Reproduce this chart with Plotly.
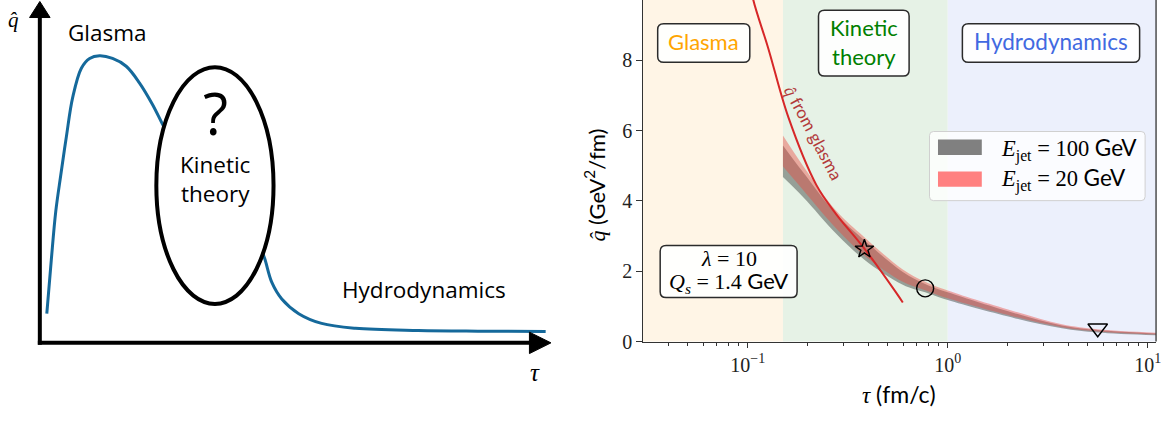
import numpy as np
import plotly.graph_objects as go

W, H = 1173, 424

# ---------------- Left schematic (arbitrary schematic units) ----------------
sch_tau_glasma = [0.7, 1.15, 1.6, 2.1, 2.67, 3.3, 4.17, 5.0, 6.0, 7.3, 8.67, 10.0, 11.3, 12.3, 13.0]
sch_q_glasma = [3.0, 8.5, 13.5, 17.2, 21.2, 25.2, 28.2, 29.2, 29.47, 29.2, 28.4, 26.7, 24.5, 22.5, 21.2]
sch_tau_hydro = [22.2, 22.6, 23.3, 24.3, 26.0, 28.3, 31.7, 38.0, 44.0, 50.8]
sch_q_hydro = [9.7, 8.6, 6.2, 4.5, 3.0, 2.0, 1.5, 1.27, 1.2, 1.17]

# ---------------- Right panel data ----------------
glasma_tau = [0.103, 0.1067, 0.1268, 0.1594, 0.2205, 0.2772, 0.3763, 0.551, 0.596]
glasma_qhat = [10.2, 9.71, 8.33, 6.39, 4.45, 3.62, 2.70, 1.40, 1.11]

band_tau = [0.15, 0.19, 0.277, 0.383, 0.596, 0.771, 1.0, 2.18, 3.72, 5.62, 11.0]
e100_low = [4.68, 4.10, 3.07, 2.33, 1.62, 1.40, 1.18, 0.66, 0.38, 0.26, 0.18]
e100_high = [5.58, 4.80, 3.62, 2.88, 1.98, 1.64, 1.40, 0.80, 0.46, 0.33, 0.23]
e20_low = [4.98, 4.30, 3.22, 2.45, 1.70, 1.46, 1.23, 0.70, 0.41, 0.29, 0.20]
e20_high = [5.86, 4.98, 3.72, 2.97, 2.05, 1.70, 1.45, 0.85, 0.49, 0.35, 0.25]

star_pt = ([0.383], [2.63])
circle_pt = ([0.771], [1.515])
tri_pt = ([5.62], [0.38])

region_edges = [0.15, 1.0]
xticks = [0.1, 1, 10]
xtick_text = ["10<sup>\u22121</sup>", "10<sup>0</sup>", "10<sup>1</sup>"]
minor_vals = [0.04, 0.05, 0.06, 0.07, 0.08, 0.09, 0.2, 0.3, 0.4, 0.5, 0.6, 0.7, 0.8, 0.9,
              2, 3, 4, 5, 6, 7, 8, 9]
yticks = [0, 2, 4, 6, 8]

SERIF = "Liberation Serif"
SANS = "Lato"
LSANS = "Open Sans"


def X(px):
    return px / W


def Y(py):
    return 1 - py / H


fig = go.Figure()

# ---------- Right panel axes geometry ----------
ax_l, ax_r, ax_b = 645.7, 1161.0, 350.7
dec = 201.0
x_lo = -1 - (751.0 - ax_l) / dec
x_hi = 1 + (ax_r - 1152.7) / dec
y_hi = ax_b / 36.1

# bands
fig.add_trace(go.Scatter(x=band_tau, y=e100_low, mode="lines", line=dict(width=0, shape="spline"),
                         showlegend=False, hoverinfo="skip"))
fig.add_trace(go.Scatter(x=band_tau, y=e100_high, mode="lines", line=dict(width=0, shape="spline"),
                         fill="tonexty", fillcolor="rgba(70,75,72,0.50)", showlegend=False, hoverinfo="skip"))
fig.add_trace(go.Scatter(x=band_tau, y=e20_low, mode="lines", line=dict(width=0, shape="spline"),
                         showlegend=False, hoverinfo="skip"))
fig.add_trace(go.Scatter(x=band_tau, y=e20_high, mode="lines", line=dict(width=0, shape="spline"),
                         fill="tonexty", fillcolor="rgba(235,70,60,0.42)", showlegend=False, hoverinfo="skip"))

# glasma curve
fig.add_trace(go.Scatter(x=glasma_tau, y=glasma_qhat, mode="lines",
                         line=dict(color="#d62728", width=2, shape="spline"),
                         showlegend=False, hoverinfo="skip"))

# markers
for (xs, ys), sym, sz in [(star_pt, "star-open", 14), (circle_pt, "circle-open", 17),
                          (tri_pt, "triangle-down-open", 17)]:
    fig.add_trace(go.Scatter(x=xs, y=ys, mode="markers",
                             marker=dict(symbol=sym, size=sz, color="black", line=dict(width=1.4)),
                             showlegend=False, hoverinfo="skip"))

# ---------- Left schematic traces ----------
fig.add_trace(go.Scatter(x=sch_tau_glasma, y=sch_q_glasma, xaxis="x2", yaxis="y2", mode="lines",
                         line=dict(color="#15699b", width=3, shape="spline"), showlegend=False,
                         hoverinfo="skip"))
fig.add_trace(go.Scatter(x=sch_tau_hydro, y=sch_q_hydro, xaxis="x2", yaxis="y2", mode="lines",
                         line=dict(color="#15699b", width=3, shape="spline"), showlegend=False,
                         hoverinfo="skip"))

shapes = []
# background regions (data values on the log axis)
shapes.append(dict(type="rect", xref="x", yref="y domain", x0=10 ** x_lo, x1=region_edges[0],
                   y0=0, y1=1, fillcolor="#fff5e6", line=dict(width=0), layer="below"))
shapes.append(dict(type="rect", xref="x", yref="y domain", x0=region_edges[0],
                   x1=region_edges[1], y0=0, y1=1, fillcolor="#e6f2e6",
                   line=dict(width=0), layer="below"))
shapes.append(dict(type="rect", xref="x", yref="y domain", x0=region_edges[1], x1=10 ** x_hi,
                   y0=0, y1=1, fillcolor="#ecf0fc", line=dict(width=0), layer="below"))
# right spine
shapes.append(dict(type="line", xref="x domain", yref="y domain", x0=1, x1=1, y0=0, y1=1,
                   line=dict(color="#333333", width=1.3)))


def rrect(x0, y0, x1, y1, r=5):
    return (f"M {X(x0+r)},{Y(y0)} L {X(x1-r)},{Y(y0)} Q {X(x1)},{Y(y0)} {X(x1)},{Y(y0+r)} "
            f"L {X(x1)},{Y(y1-r)} Q {X(x1)},{Y(y1)} {X(x1-r)},{Y(y1)} L {X(x0+r)},{Y(y1)} "
            f"Q {X(x0)},{Y(y1)} {X(x0)},{Y(y1-r)} L {X(x0)},{Y(y0+r)} Q {X(x0)},{Y(y0)} {X(x0+r)},{Y(y0)} Z")


for (bx0, by0, bx1, by1) in [(660.5, 24.5, 753, 64), (822, 10.5, 913, 78),
                             (966.5, 24.5, 1144.5, 64), (663, 252, 800.5, 305.5)]:
    shapes.append(dict(type="path", xref="paper", yref="paper", path=rrect(bx0, by0, bx1, by1, 6),
                       fillcolor="rgba(255,255,255,0.92)", line=dict(color="#2b2b2b", width=1.5)))

# legend
shapes.append(dict(type="path", xref="paper", yref="paper", path=rrect(933.5, 135, 1150, 206, 4),
                   fillcolor="rgba(255,255,255,0.8)", line=dict(color="#d0d0d0", width=1)))
shapes.append(dict(type="rect", xref="paper", yref="paper", x0=X(942), x1=X(986), y0=Y(159),
                   y1=Y(143.3), fillcolor="#808080", line=dict(width=0)))
shapes.append(dict(type="rect", xref="paper", yref="paper", x0=X(942), x1=X(986), y0=Y(191.7),
                   y1=Y(176), fillcolor="#ff8080", line=dict(width=0)))

# left schematic: axes arrows and ellipse
shapes.append(dict(type="line", xref="x2", yref="y2", x0=0, y0=-0.2, x1=0, y1=33.5,
                   line=dict(color="black", width=4)))
shapes.append(dict(type="line", xref="x2", yref="y2", x0=-0.2, y0=0, x1=49.3, y1=0,
                   line=dict(color="black", width=4)))
shapes.append(dict(type="path", xref="x2", yref="y2", path="M -1.03,33.4 L 1.03,33.4 L 0,35.05 Z",
                   fillcolor="black", line=dict(color="black", width=1)))
shapes.append(dict(type="path", xref="x2", yref="y2", path="M 49.17,1.1 L 49.17,-1.1 L 51.33,0 Z",
                   fillcolor="black", line=dict(color="black", width=1)))
shapes.append(dict(type="circle", xref="x2", yref="y2", x0=11.7, x1=23.47, y0=4.0, y1=28.3,
                   fillcolor="white", line=dict(color="black", width=4)))

annotations = []


def ann(px, py, text, size, color="black", family=SANS, angle=0, xanchor="center"):
    annotations.append(dict(xref="paper", yref="paper", x=X(px), y=Y(py), text=text,
                            showarrow=False, xanchor=xanchor, yanchor="middle", textangle=angle,
                            font=dict(size=size, color=color, family=family)))


def sp(fam, t):
    return f'<span style="font-family:{fam}">{t}</span>'


# left schematic text
ann(108, 33, "Glasma", 22.5, family=LSANS)
ann(425.5, 297, "Hydrodynamics", 22.5, family=LSANS)
ann(216, 116, "?", 58, family=LSANS)
ann(216, 184, "Kinetic<br>theory", 22.5, family=LSANS)
ann(14, 21, "<i>q\u0302</i>", 21, family=SERIF)
ann(537, 382, "<i>\u03c4</i>", 25, family=SERIF)

# right panel boxes
ann(706.7, 43, "Glasma", 22, color="#ffa500")
ann(867.5, 43, "Kinetic<br>theory", 22, color="#008000")
ann(1056, 43, "Hydrodynamics", 22.5, color="#4169e1")
ann(731.7, 265.5, "<i>\u03bb</i> = 10", 22, family=SERIF)
ann(731.7, 290, "<i>Q<sub>s</sub></i> = 1.4 " + sp(SANS, "GeV"), 22, family=SERIF)
ann(817, 136, "<i>" + sp(SERIF, "q\u0302") + "</i> from glasma", 17, color="#b23a3a", angle=62)

# legend text
ann(1003, 153, "<i>E</i><sub>jet</sub> = 100 " + sp(SANS, "GeV"), 22.5, family=SERIF, xanchor="left")
ann(1003, 184, "<i>E</i><sub>jet</sub> = 20 " + sp(SANS, "GeV"), 22.5, family=SERIF, xanchor="left")

# axis titles
ann(597, 190, sp(SERIF, "<i>q\u0302</i>") + " (GeV<sup>2</sup>/fm)", 22, angle=-90)
ann(903, 404, sp(SERIF, "<i>\u03c4</i>") + " (fm/c)", 23)

fig.update_layout(
    width=W, height=H, autosize=False, margin=dict(l=0, r=0, t=0, b=0, pad=0),
    paper_bgcolor="white", plot_bgcolor="white",
    xaxis=dict(type="log", domain=[ax_l / W, ax_r / W], range=[x_lo, x_hi],
               tickvals=xticks, ticktext=xtick_text, ticks="outside", ticklen=5, tickwidth=1.2,
               tickcolor="#333333", showline=True, linecolor="#333333", linewidth=1.3,
               showgrid=False, zeroline=False, anchor="y",
               tickfont=dict(family=SERIF, size=20, color="#222222"),
               minor=dict(tickvals=minor_vals, ticks="outside", ticklen=3, tickwidth=1,
                          tickcolor="#333333", showgrid=False)),
    yaxis=dict(domain=[(H - ax_b) / H, 1], range=[0, y_hi], tickvals=yticks, ticks="outside",
               ticklen=5.5, tickwidth=1.2, tickcolor="#333333", showline=True,
               linecolor="#333333", linewidth=1.3, showgrid=False, zeroline=False, anchor="x",
               tickfont=dict(family=SERIF, size=20, color="#222222")),
    xaxis2=dict(domain=[0, 560 / W], range=[-4, 52], visible=False, anchor="y2"),
    yaxis2=dict(domain=[0, 1], range=[-7.2, 35.2], visible=False, anchor="x2"),
    shapes=shapes, annotations=annotations,
)

fig.write_html(
    "out.html",
    config={"displayModeBar": False},
    post_script=("document.documentElement.style.margin='0px';"
                 "document.body.style.margin='0px';"
                 "document.documentElement.style.overflow='hidden';"
                 "document.body.style.overflow='hidden';"),
)
